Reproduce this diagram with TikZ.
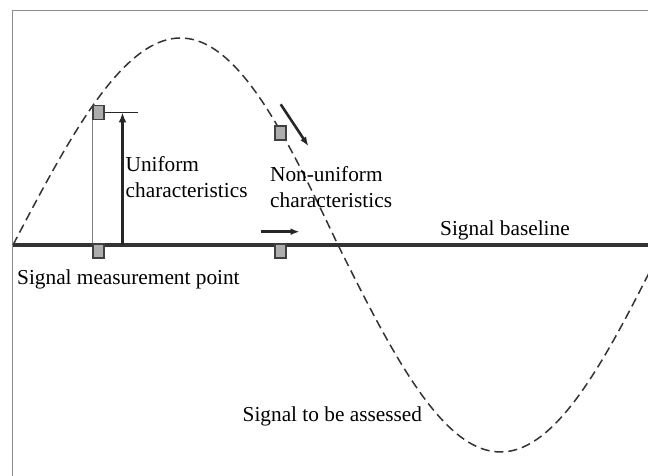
\documentclass[tikz,border=0pt]{standalone}
\usepackage{fontspec}
\setmainfont{Liberation Serif}
\usetikzlibrary{arrows.meta,calc,positioning}

\begin{document}
\begin{tikzpicture}[x=1pt,y=-1pt,>={Latex[length=10pt,width=8pt]},
    probe/.style={rectangle,draw=black!75,fill=black!32,line width=1.1pt,minimum width=11pt,minimum height=14pt,inner sep=0pt},
    label text/.style={font=\fontsize{21.3}{25.6}\selectfont,inner sep=0pt,align=left,anchor=base west},
    signal/.style={dash pattern=on 9pt off 5pt,line width=1.5pt,black!80},
    base line/.style={line width=3.2pt,black!80},
    thin line/.style={line width=1pt,black!50}]
    \useasboundingbox (0,0) rectangle (648,476);
    \clip (0,0) rectangle (648,476);
    \draw[line width=1.8pt,black!45] (12.5,476) -- (12.5,10.5) -- (648,10.5);

    \coordinate (b0) at (13,245);
    \coordinate (b1) at (650,245);
    \draw[base line] (b0) -- (b1);
    \draw[signal] plot[domain=0:375,samples=160,variable=\t] ({13+1.8056*\t+5*max(sin(\t),0)},{245-207*sin(\t)});

    \node[probe] (mtop1) at (98.5,112.5) {};
    \node[probe] (mbase1) at (98.5,251) {};
    \node[probe] (mtop2) at (280.5,133) {};
    \node[probe] (mbase2) at (280.5,251) {};

    \coordinate (tick) at (138,112.5);
    \coordinate (ubase) at (122.5,245);
    \draw[thin line] (mtop1.south west) -- (mbase1.north west);
    \draw[line width=1pt,black!85] (mtop1.east) -- (tick);
    \draw[->,line width=3pt,black!85] (ubase) -- (ubase |- mtop1.east);

    \coordinate (d0) at (280.7,104.3);
    \coordinate (d1) at (308.3,146);
    \coordinate (h0) at (261,231.7);
    \coordinate (h1) at (299.5,231.7);
    \draw[-{Latex[length=9pt,width=7pt]},line width=2.6pt,black!85] (d0) -- (d1);
    \draw[-{Latex[length=9pt,width=7pt]},line width=2.6pt,black!85] (h0) -- (h1);

    \node[label text] (uniform) at (125.5,197) {Uniform\\characteristics};
    \node[label text] (nonuniform) at (270,207.5) {Non-uniform\\characteristics};
    \node[label text] (baselabel) at (440,235) {Signal baseline};
    \node[label text] (measure) at (17,284) {Signal measurement point};
    \node[label text] (assessed) at (242.5,421) {Signal to be assessed};
\end{tikzpicture}
\end{document}
